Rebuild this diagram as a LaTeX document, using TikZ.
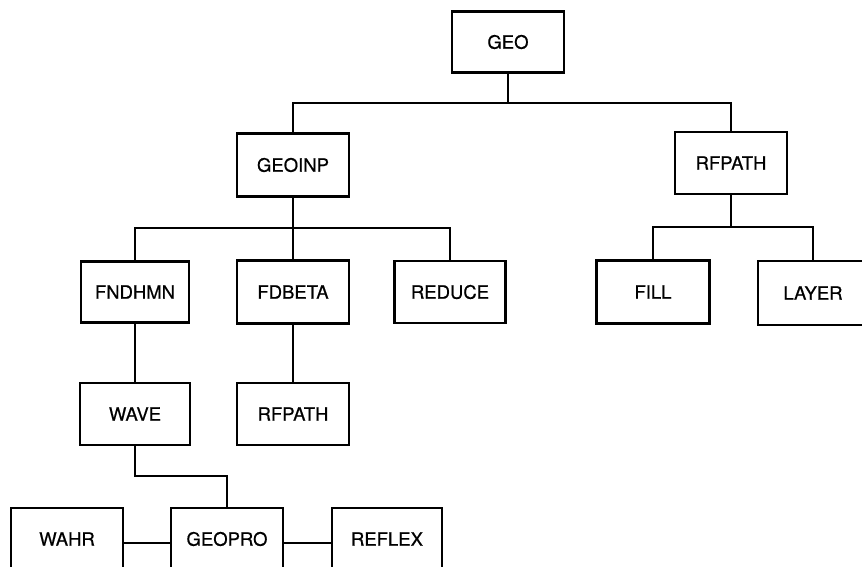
\documentclass[tikz,border=0pt]{standalone}
\usepackage{fontspec}
\setmainfont{TeX Gyre Heros}
\newfontfamily\medfont{TeX Gyre Heros}[FakeBold=0.6]
\begin{document}
\begin{tikzpicture}[x=1pt,y=-1pt,
  modbox/.style={draw,line width=2.3pt,minimum width=112pt,minimum height=62pt,inner sep=0pt,
    font=\medfont\fontsize{18.5}{20}\selectfont},
  conn/.style={line width=1.4pt}]
\useasboundingbox (0,0) rectangle (862,567);
\clip (0,0) rectangle (862,567);
\fill[white] (0,0) rectangle (862,567);
\node[modbox,minimum height=61pt] (geo) at (508,42) {GEO};
\node[modbox,minimum height=63pt] (geoinp) at (293,165) {GEOINP};
\node[modbox] (rfpatha) at (731,163) {RFPATH};
\node[modbox,minimum width=108pt,minimum height=61pt] (fndhmn) at (135,292) {FNDHMN};
\node[modbox,minimum height=63pt] (fdbeta) at (293,292) {FDBETA};
\node[modbox,minimum width=111pt] (reduce) at (450,292) {REDUCE};
\node[modbox,minimum width=113pt,minimum height=63pt] (fill) at (653,292) {FILL};
\node[modbox,minimum width=110pt,minimum height=64pt] (layer) at (813,293) {LAYER};
\node[modbox,minimum width=110pt] (wave) at (135,414) {WAVE};
\node[modbox] (rfpathb) at (293,414) {RFPATH};
\node[modbox] (wahr) at (67,539) {WAHR};
\node[modbox] (geopro) at (227,539) {GEOPRO};
\node[modbox,minimum width=110pt] (reflex) at (387,539) {REFLEX};
\coordinate (j1) at (508,103);
\coordinate (j2) at (293,228);
\coordinate (j3) at (731,227);
\coordinate (j4) at (135,476);
\draw[conn] (geo.south) -- (j1);
\draw[conn] (geoinp.north) |- (j1) -| (rfpatha.north);
\draw[conn] (geoinp.south) -- (fdbeta.north);
\draw[conn] (fndhmn.north) |- (j2) -| (reduce.north);
\draw[conn] (rfpatha.south) -- (j3);
\draw[conn] (fill.north) |- (j3) -| (layer.north);
\draw[conn] (fndhmn.south) -- (wave.north);
\draw[conn] (fdbeta.south) -- (rfpathb.north);
\draw[conn] (wave.south) -- (j4) -| (geopro.north);
\draw[conn] (wahr.east |- 0,543) -- (geopro.west |- 0,543);
\draw[conn] (geopro.east |- 0,543) -- (reflex.west |- 0,543);
\end{tikzpicture}
\end{document}
